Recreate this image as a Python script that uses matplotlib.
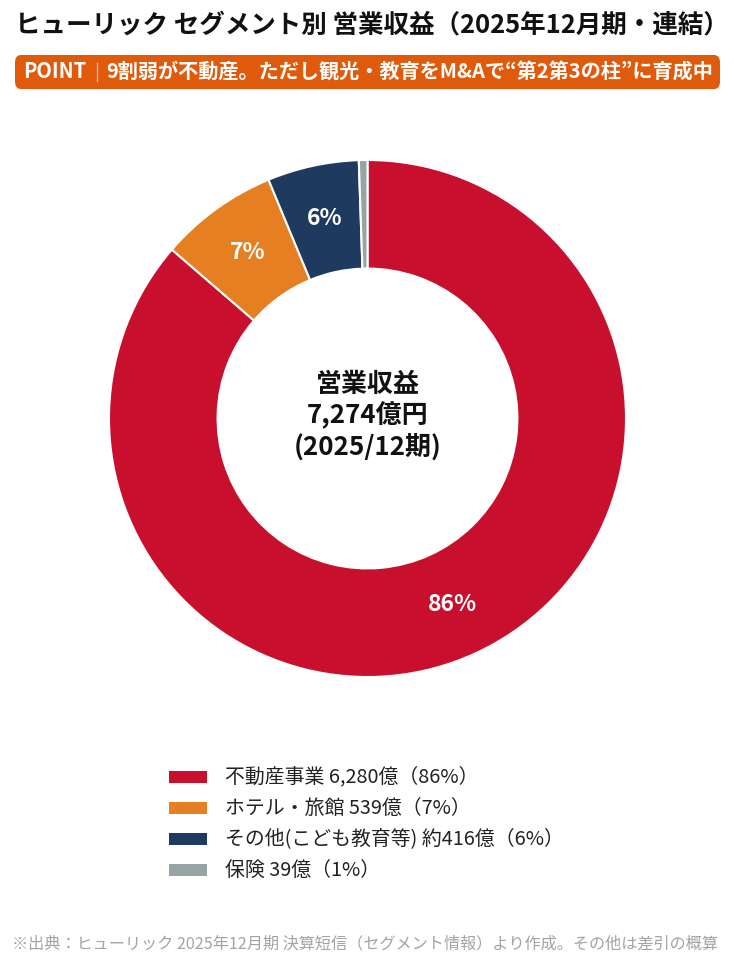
import matplotlib
matplotlib.use("Agg")
import matplotlib.pyplot as plt
import numpy as np
from matplotlib.patches import FancyBboxPatch, Rectangle

plt.rcParams["font.family"] = ["Noto Sans CJK JP", "DejaVu Sans"]

segments = ["不動産事業", "ホテル・旅館", "その他(こども教育等)", "保険"]
revenue = [6280, 539, 416, 39]
shares = [86, 7, 6, 1]
legend_labels = [
    "不動産事業 6,280億（86%）",
    "ホテル・旅館 539億（7%）",
    "その他(こども教育等) 約416億（6%）",
    "保険 39億（1%）",
]
colors = ["#C8102E", "#E67E22", "#1F3A5F", "#95A5A6"]

title = "ヒューリック セグメント別 営業収益（2025年12月期・連結）"
point_label = "POINT"
point_text = "9割弱が不動産。ただし観光・教育をM&Aで“第2第3の柱”に育成中"
center_text = "営業収益\n7,274億円\n(2025/12期)"
footer = "※出典：ヒューリック 2025年12月期 決算短信（セグメント情報）より作成。その他は差引の概算"

W, H = 734, 969
fig = plt.figure(figsize=(W / 100, H / 100), dpi=100)
fig.patch.set_facecolor("white")


def fx(px):
    return px / W


def fy(py):
    return 1 - py / H


fig.text(fx(15), fy(25), title, fontsize=18.4, fontweight="bold",
         ha="left", va="center", color="#111111")

box = FancyBboxPatch((fx(15), fy(89)), 705 / W, 34 / H,
                     boxstyle="round,pad=0,rounding_size=0.008",
                     transform=fig.transFigure, facecolor="#E05A0C",
                     edgecolor="none")
fig.patches.append(box)
fig.text(fx(23), fy(72), point_label, fontsize=14.4, fontweight="bold",
         ha="left", va="center", color="white")
fig.add_artist(plt.Line2D([fx(97), fx(97)], [fy(63), fy(81)],
                          transform=fig.transFigure, color="#F5B58E", lw=1))
fig.text(fx(106), fy(72), point_text, fontsize=14.5, fontweight="bold",
         ha="left", va="center", color="white")

# donut
cx, cy, r = 367.5, 418.5, 258.5
ax = fig.add_axes([fx(cx - r), fy(cy + r), 2 * r / W, 2 * r / H])
wedges, _ = ax.pie(revenue, colors=colors, startangle=90, counterclock=False,
                   wedgeprops=dict(width=0.42, edgecolor="white", linewidth=1.5))
ax.set_aspect("equal")
ax.set_xlim(-1, 1)
ax.set_ylim(-1, 1)

total = sum(revenue)
start = 90.0
for val, pct in zip(revenue, shares):
    ang = start - 360.0 * val / total / 2
    start -= 360.0 * val / total
    if pct < 3:
        continue
    rr = 0.79
    ax.text(rr * np.cos(np.radians(ang)), rr * np.sin(np.radians(ang)),
            f"{pct}%", ha="center", va="center", color="white",
            fontsize=16.5, fontweight="bold")

ax.text(0, 0.01, center_text, ha="center", va="center", fontsize=18.7,
        fontweight="bold", color="#111111", linespacing=1.2)

# legend
for i, (lab, c) in enumerate(zip(legend_labels, colors)):
    y = 777 + 31 * i
    fig.patches.append(Rectangle((fx(169), fy(y + 6)), 38 / W, 12 / H,
                                 transform=fig.transFigure, facecolor=c,
                                 edgecolor="none"))
    fig.text(fx(225), fy(y), lab, fontsize=14.3, ha="left", va="center",
             color="#222222")

fig.text(fx(12), fy(944), footer, fontsize=11.65, ha="left", va="center",
         color="#A0A4A8")

fig.savefig("out.png", dpi=100, facecolor="white")
